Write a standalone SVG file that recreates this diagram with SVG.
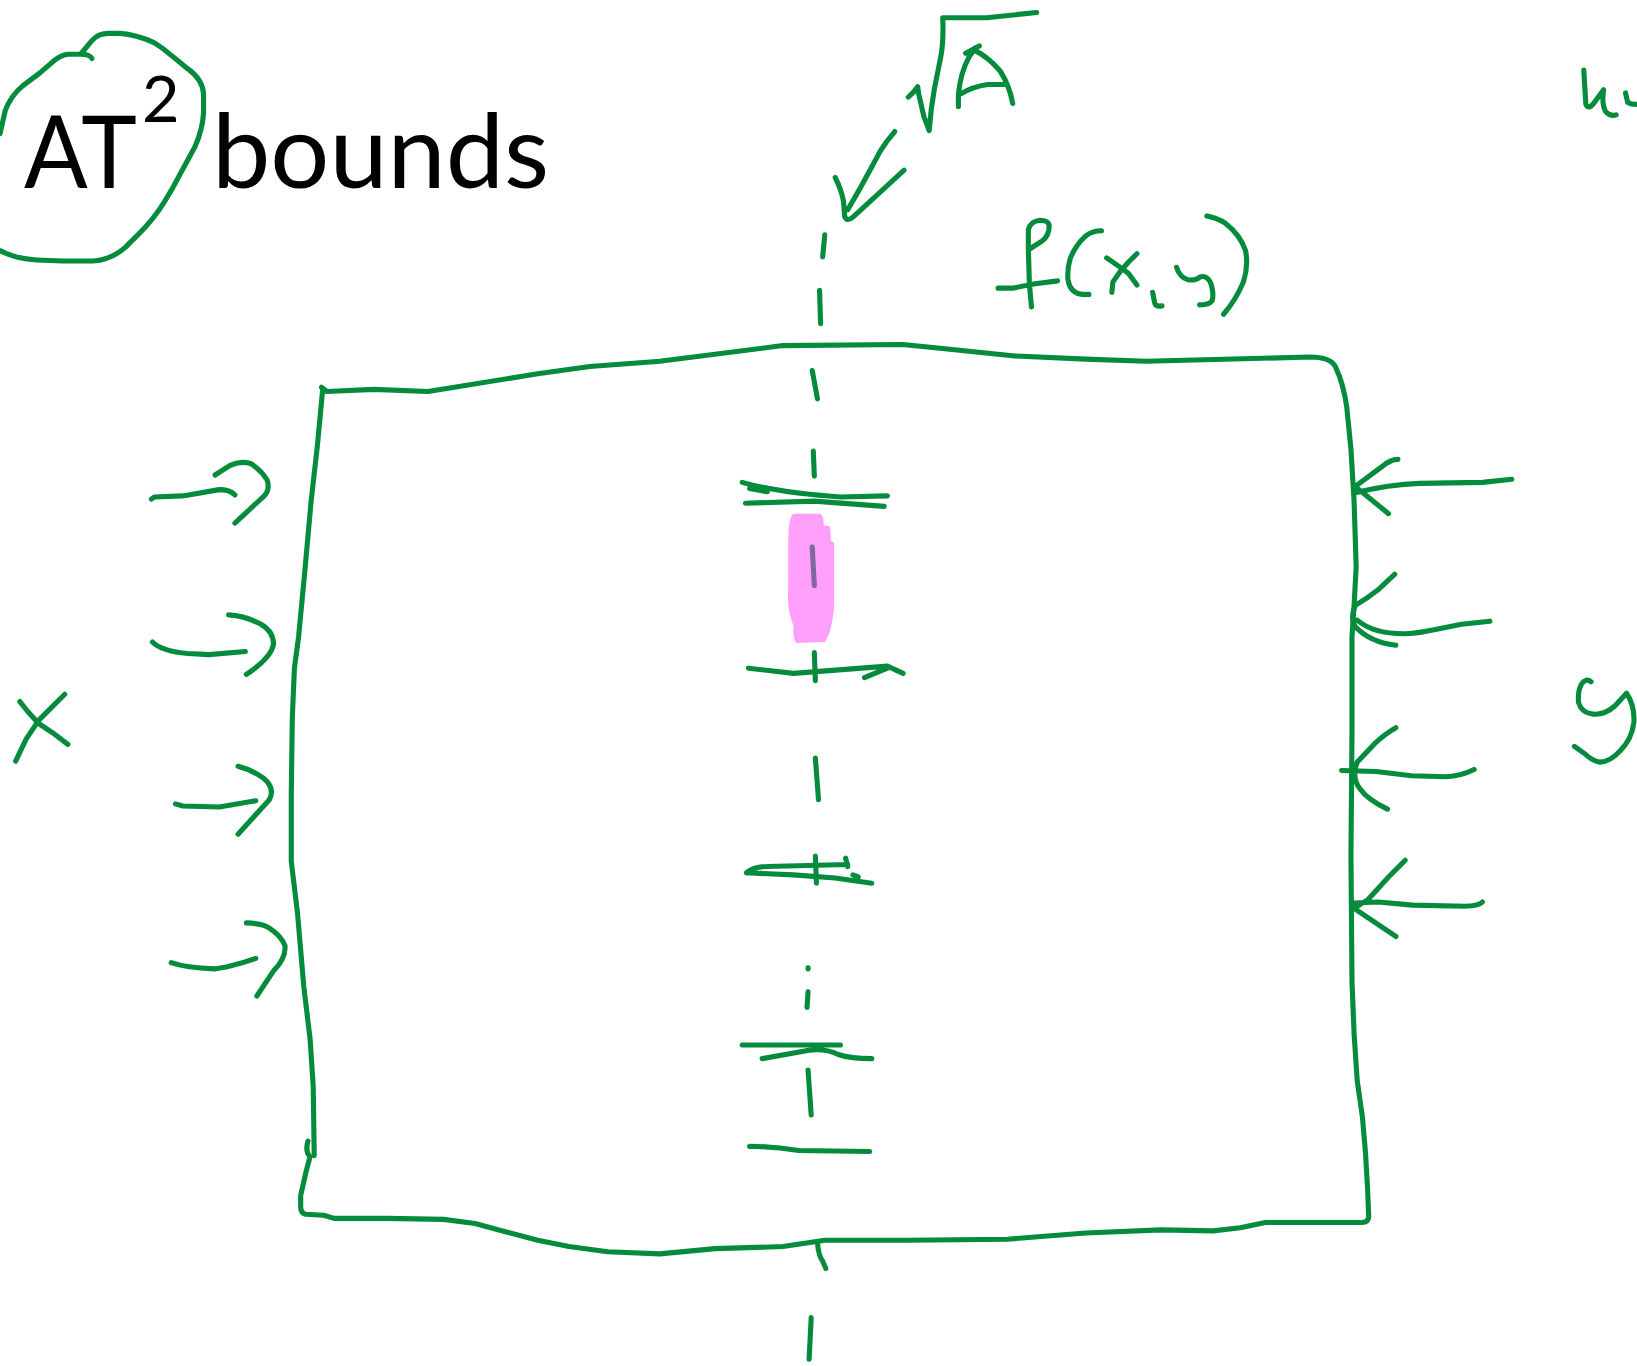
<svg xmlns="http://www.w3.org/2000/svg" width="1637" height="1366" viewBox="0 0 1637 1366">
<style>
.g{fill:none;stroke:#048b3c;stroke-width:4.9;stroke-linecap:round;stroke-linejoin:round}
.t{font-family:Lato,"Open Sans","Liberation Sans",sans-serif;fill:#000}
</style>
<rect width="1637" height="1366" fill="#fff"/>
<g transform="scale(1.04401)">
<g id="title">
<text class="t" x="23" y="180" font-size="97" textLength="108" lengthAdjust="spacingAndGlyphs">AT</text>
<text class="t" x="136" y="117" font-size="62">2</text>
<text class="t" x="203" y="180" font-size="99" textLength="323" lengthAdjust="spacingAndGlyphs">bounds</text>
<path class="g" d="M88,56 Q86,52 78,52 L65,52 Q58,53 52,58 L38,70 L22,82 Q10,92 5,106 L0,128"/>
<path class="g" d="M78,51 L88,39 Q94,32 104,32 L115,32 Q130,33 148,41 Q156,46 164,53 L180,66 Q194,76 195,90 L195,108 Q194,124 187,140 L174,164 Q166,180 157,194 Q147,210 133,224 L120,237 Q106,249 89,250 L60,250 L35,249 Q15,248 0,240"/>
</g>
<g id="sqrtA">
<path class="g" d="M870,93 Q876,88 879,83 L880,90 L885,112 L890,125 L892,105 L895,85 L901,55 Q904,40 903,17 L945,17 L993,12"/>
<path class="g" d="M918,102 L918,90 Q920,70 928,55 L934,46 M925,51 L938,44 M933,48 Q946,54 958,68 Q967,82 970,99 M920,90 Q932,83 946,81 L961,81"/>
<path class="g" d="M857,126 L849,136 L843,145 L836,158 L824,180 L812,201 M800,170 Q806,182 808,193 L809,207 Q811,213 817,208 L866,163"/>
</g>
<g id="fxy">
<path class="g" d="M956,276 L970,276 L990,272 L1013,269 M988,294 L986,272 L985,238 L985,220 Q987,212 996,211 Q1004,211 1005,216 Q1005,226 998,231 L987,238"/>
<path class="g" d="M1055,221 Q1046,221 1040,226 Q1030,235 1025,248 Q1022,258 1023,268 Q1025,281 1037,282 L1043,282"/>
<path class="g" d="M1060,247 L1073,256 L1081,262 L1089,273 M1089,243 L1081,251 L1073,260 L1066,270 L1065,280"/>
<path class="g" d="M1104,280 L1106,290 Q1107,294 1113,293"/>
<path class="g" d="M1127,256 Q1130,266 1138,268 Q1145,269 1150,265 Q1157,264 1160,272 Q1163,282 1161,288 Q1158,292 1149,292"/>
<path class="g" d="M1156,207 Q1166,209 1174,214 Q1188,225 1193,240 Q1196,255 1191,270 Q1184,287 1172,301"/>
</g>
<g id="w-label">
<path class="g" d="M1517,67 L1519,100 Q1522,106 1528,97 L1536,86 Q1534,100 1538,107 Q1543,112 1548,110 M1557,89 L1559,98 Q1562,100 1568,100"/>
</g>
<g id="x-label">
<path class="g" d="M19,672 L27,682 L37,693 L52,703 L65,713 M62,665 L48,679 L37,690 L25,708 L15,729"/>
</g>
<g id="y-label">
<path class="g" d="M1524,653 Q1519,649 1515,655 Q1511,662 1512,673 Q1515,683 1526,684 Q1537,685 1547,676 L1558,664 Q1566,676 1565,692 Q1563,708 1552,719 Q1542,730 1532,730 Q1524,728 1518,722 L1508,715"/>
</g>
<g id="box">
<path class="g" d="M308,371 L313,375 L358,373 L410,375 L515,358 L565,351 L632,346 L750,331 L865,330 L905,334 L972,341 L1040,344 L1098,346 L1255,342 Q1274,342 1279,351 Q1287,368 1290,390 L1294,430 L1297,480 L1299,543 L1297,580 L1295,610 L1295,640 L1295,700 L1294,820 L1295,940 L1297,990 L1300,1035 L1305,1070 L1308,1105 L1310,1140 L1311,1165 Q1311,1171 1304,1171 L1250,1171 L1212,1171 L1188,1176 L1162,1179 L1112,1178 L1040,1181 L965,1187 L870,1188 L790,1188 L750,1194 L685,1196 L632,1201 L582,1199 L545,1194 L515,1188 L485,1180 L455,1172 L425,1168 L370,1167 L320,1167 L310,1164 L293,1163 Q288,1162 288,1156 L288,1145 L293,1123 L297,1108 Q292,1103 295,1093"/>
<path class="g" d="M309,374 L304,427 L298,480 L292,547 L286,610 L282,640 L280,687 L279,760 L279,825 L285,875 L291,945 L297,995 L300,1040 L301,1107"/>
</g>
<g id="input-arrows">
<path class="g" d="M145,478 L148,476 L175,475 L210,469 Q220,469 225,474 M206,455 L220,446 Q230,441 240,444 Q250,450 256,460 Q259,470 252,476 L225,501"/>
<path class="g" d="M146,615 Q155,624 180,626 L200,627 L235,624 M219,589 Q235,590 250,598 Q262,605 262,617 Q260,630 236,646"/>
<path class="g" d="M168,770 L175,772 L210,773 L245,767 M228,734 Q240,737 252,745 Q264,755 258,766 L228,799"/>
<path class="g" d="M164,922 Q178,927 205,928 Q218,927 245,918 M236,884 Q250,884 258,889 Q270,897 273,906 Q274,918 262,930 L246,954"/>
</g>
<g id="output-arrows">
<path class="g" d="M1448,459 L1420,462 L1360,463 Q1330,464 1298,472 M1339,440 Q1332,440 1325,446 L1298,466 L1330,492"/>
<path class="g" d="M1427,595 L1400,598 L1370,604 Q1355,607 1345,607 Q1315,607 1300,594 M1336,550 L1320,565 Q1310,573 1298,580 Q1293,592 1298,600 Q1312,615 1337,618"/>
<path class="g" d="M1285,738 L1318,739 L1352,743 L1385,744 Q1400,743 1412,737 M1337,697 Q1328,702 1318,711 L1300,730 Q1294,745 1303,756 Q1310,766 1329,775"/>
<path class="g" d="M1297,865 L1320,864 L1353,867 L1403,868 Q1416,868 1420,864 M1346,824 L1330,840 L1310,862 L1297,870 L1337,897"/>
</g>
<g id="bars">
<path d="M760,492 L786,492 Q789,494 789,503 L795,504 L796,518 L799,520 L799,580 Q797,605 790,615 L763,616 Q759,612 760,600 L757,590 Q754,580 755,560 L755,520 Q755,495 760,492 Z" fill="#ff9ffa"/>
<path d="M778,524 L780,561" fill="none" stroke="#81679f" stroke-width="4.9" stroke-linecap="round"/>
<path class="g" d="M711,462 Q745,472 805,476 L850,475 M718,468 L735,471 M714,482 L780,480 L847,485"/>
<path class="g" d="M717,640 L760,645 L850,638 L865,645 M828,649 L850,640"/>
<path class="g" d="M715,836 Q722,830 735,830 L812,828 M715,836 L760,838 L800,841 L835,846 M810,822 L812,830 M817,838 L822,840"/>
<path class="g" d="M711,1001 L805,1001 M730,1014 L775,1006 Q790,1004 803,1010 Q815,1014 835,1014"/>
<path class="g" d="M718,1098 Q740,1098 765,1102 L833,1103"/>
</g>
<g id="center-line">
<path class="g" d="M790,225 L788,246 M785,278 L786,310 M778,355 L783,382 M779,432 L780,456 M780,625 L781,652 M781,726 L784,766 M781,820 L782,846 M774,927 L774,928 M774,950 L773,965 M774,1025 L777,1068 M783,1190 Q784,1203 788,1208 L791,1215 M777,1262 L775,1302"/>
</g>
</g>
</svg>
